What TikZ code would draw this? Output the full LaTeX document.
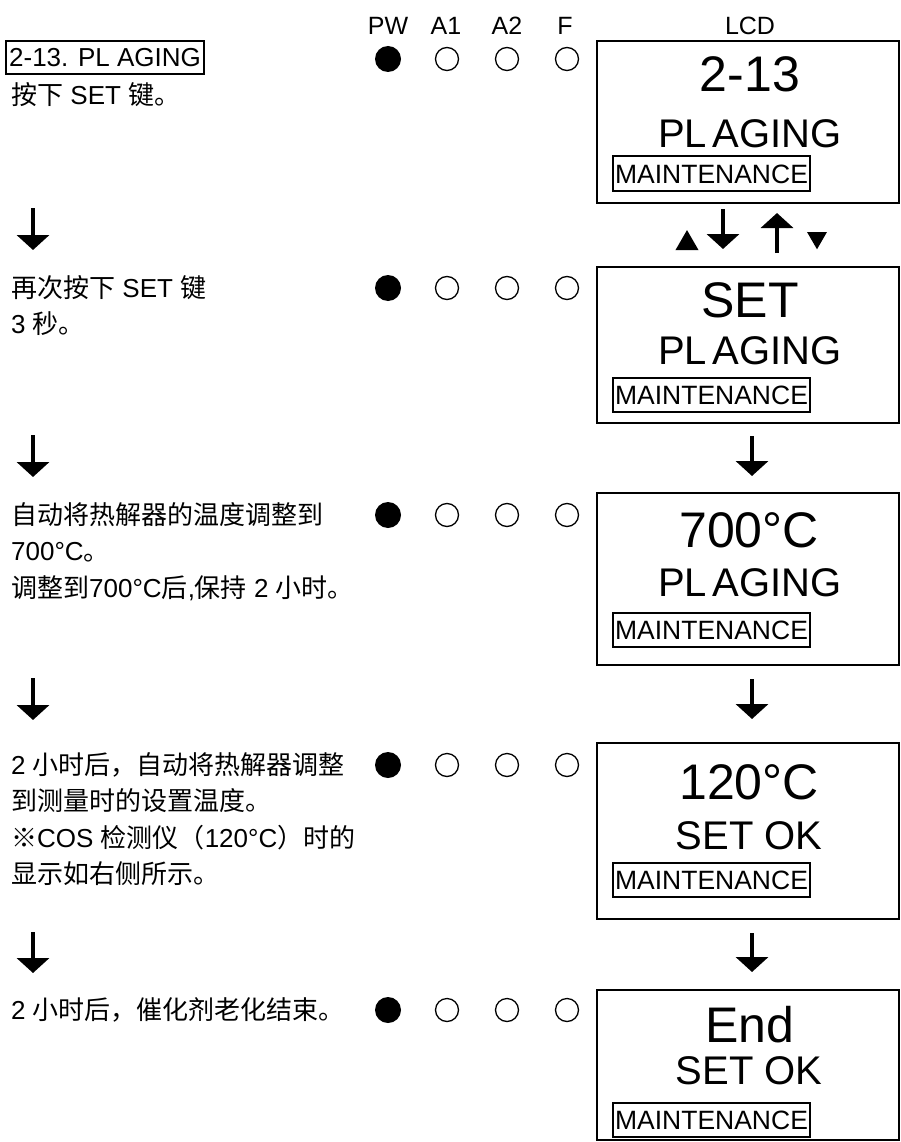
\documentclass[tikz,border=0pt]{standalone}
\usepackage{fontspec}
\setmainfont{Liberation Sans}
\newfontfamily\cjk{Noto Sans CJK SC}
\usetikzlibrary{positioning,arrows.meta,shapes.geometric}
\newcommand\zh[1]{{\cjk #1}}
\tikzset{
  lcd/.style={rectangle,draw,line width=2pt,minimum width=302pt,inner sep=0pt},
  lcdbig/.style={inner sep=0pt,font=\fontsize{50}{50}\selectfont,text height=35.8pt,text depth=0pt},
  lcdmid/.style={inner sep=0pt,font=\fontsize{40}{40}\selectfont,text height=28.6pt,text depth=0pt},
  mode/.style={rectangle,draw,line width=2pt,minimum width=197pt,minimum height=34pt,inner sep=0pt,
    font=\fontsize{26.5}{26.5}\selectfont,text height=19pt,text depth=0pt},
  hdr/.style={inner sep=0pt,font=\fontsize{25}{25}\selectfont,text height=17.9pt,text depth=0pt},
  title/.style={rectangle,draw,line width=2pt,minimum height=33pt,inner xsep=3pt,inner ysep=0pt,
    font=\fontsize{26}{26}\selectfont,text height=18.6pt,text depth=0pt},
  note/.style={anchor=north west,align=left,inner sep=0pt,font=\fontsize{26}{36.5}\selectfont},
  ledon/.style={circle,fill=black,minimum size=26pt,inner sep=0pt},
  ledoff/.style={circle,draw,line width=1.3pt,minimum size=23pt,inner sep=0pt},
  down/.style={-{Triangle[width=32pt,length=15pt]},line width=4pt},
  tri/.style={regular polygon,regular polygon sides=3,fill=black,inner sep=0pt},
}
\begin{document}
\begin{tikzpicture}[x=1pt,y=-1pt]
  \useasboundingbox (0,0) rectangle (901,1142);
  % column heads
  \node[hdr] (hpw) at (388,26) {PW};
  \node[hdr] (ha1) at (446,26) {A1};
  \node[hdr] (ha2) at (507,26) {A2};
  \node[hdr] (hf) at (565,26) {F};
  \node[hdr] (hlcd) at (750,26) {LCD};
  % lamps of each step
  \foreach \r/\y in {1/59,2/288,3/515,4/765,5/1010}{
    \node[ledon] (pw\r) at (388,\y) {};
    \node[ledoff] (ai\r) at (447,\y) {};
    \node[ledoff] (aii\r) at (507,\y) {};
    \node[ledoff] (f\r) at (567,\y) {};
  }
  % step texts
  \node[title] (ttl) at (105,57.5) {2-13. PL AGING};
  \node[note] (n1) at (11,82) {\zh{按下} SET \zh{键。}};
  \node[note] (n2) at (11,275) {\zh{再次按下} SET \zh{键}\\3 \zh{秒。}};
  \node[note] (n3) at (11,502) {\zh{自动将热解器的温度调整到}\\700°C\zh{。}\\\zh{调整到}700°C\zh{后},\zh{保持} 2 \zh{小时。}};
  \node[note] (n4) at (11,752) {2 \zh{小时后，自动将热解器调整}\\\zh{到测量时的设置温度。}\\\zh{※}COS \zh{检测仪（}120°C\zh{）时的}\\\zh{显示如右侧所示。}};
  \node[note] (n5) at (11,997) {2 \zh{小时后，催化剂老化结束。}};
  % left arrows
  \foreach \i/\ya/\yb in {1/208/250,2/435/477,3/678/720,4/932/973}{
    \coordinate (la\i) at (33,\ya);
    \coordinate (lb\i) at (33,\yb);
    \draw[down] (la\i) -- (lb\i);
  }
  % LCD screens
  \node[lcd,minimum height=162pt] (lcd1) at (748,122) {};
  \node[lcdbig] (s1) at (750,74) {2-13};
  \node[lcdmid] (m1) at (750,133) {{\spaceskip=0.15em PL AGING}};
  \node[mode] (k1) at (711.5,173.5) {MAINTENANCE};

  \node[lcd,minimum height=156pt] (lcd2) at (748,345) {};
  \node[lcdbig] (s2) at (750,300) {SET};
  \node[lcdmid] (m2) at (750,350) {{\spaceskip=0.15em PL AGING}};
  \node[mode] (k2) at (711.5,395) {MAINTENANCE};

  \node[lcd,minimum height=172pt] (lcd3) at (748,579) {};
  \node[lcdbig] (s3) at (749,530) {700°C};
  \node[lcdmid] (m3) at (750,582) {{\spaceskip=0.15em PL AGING}};
  \node[mode] (k3) at (711.5,630) {MAINTENANCE};

  \node[lcd,minimum height=176pt] (lcd4) at (748,831) {};
  \node[lcdbig] (s4) at (749,782) {120°C};
  \node[lcdmid] (m4) at (749,835) {SET OK};
  \node[mode] (k4) at (711.5,880) {MAINTENANCE};

  \node[lcd,minimum height=150pt] (lcd5) at (748,1065) {};
  \node[lcdbig] (s5) at (750,1025) {End};
  \node[lcdmid] (m5) at (749,1070) {SET OK};
  \node[mode] (k5) at (711.5,1120) {MAINTENANCE};
  % keys between first two screens
  \node[tri,minimum size=26.6pt] (kup) at (687,243.4) {};
  \node[tri,minimum size=23pt,shape border rotate=180] (kdn) at (817,237.8) {};
  \draw[down,shorten <=5pt,shorten >=17pt] ([xshift=-25pt]lcd1.south) -- ([xshift=-25pt]lcd2.north);
  \draw[down,shorten <=13pt,shorten >=9pt] ([xshift=29pt]lcd2.north) -- ([xshift=29pt]lcd1.south);
  % screen to screen
  \draw[down,shorten <=12pt,shorten >=16pt] ([xshift=4pt]lcd2.south) -- ([xshift=4pt]lcd3.north);
  \draw[down,shorten <=13pt,shorten >=23pt] ([xshift=4pt]lcd3.south) -- ([xshift=4pt]lcd4.north);
  \draw[down,shorten <=13pt,shorten >=17pt] ([xshift=4pt]lcd4.south) -- ([xshift=4pt]lcd5.north);
\end{tikzpicture}
\end{document}
